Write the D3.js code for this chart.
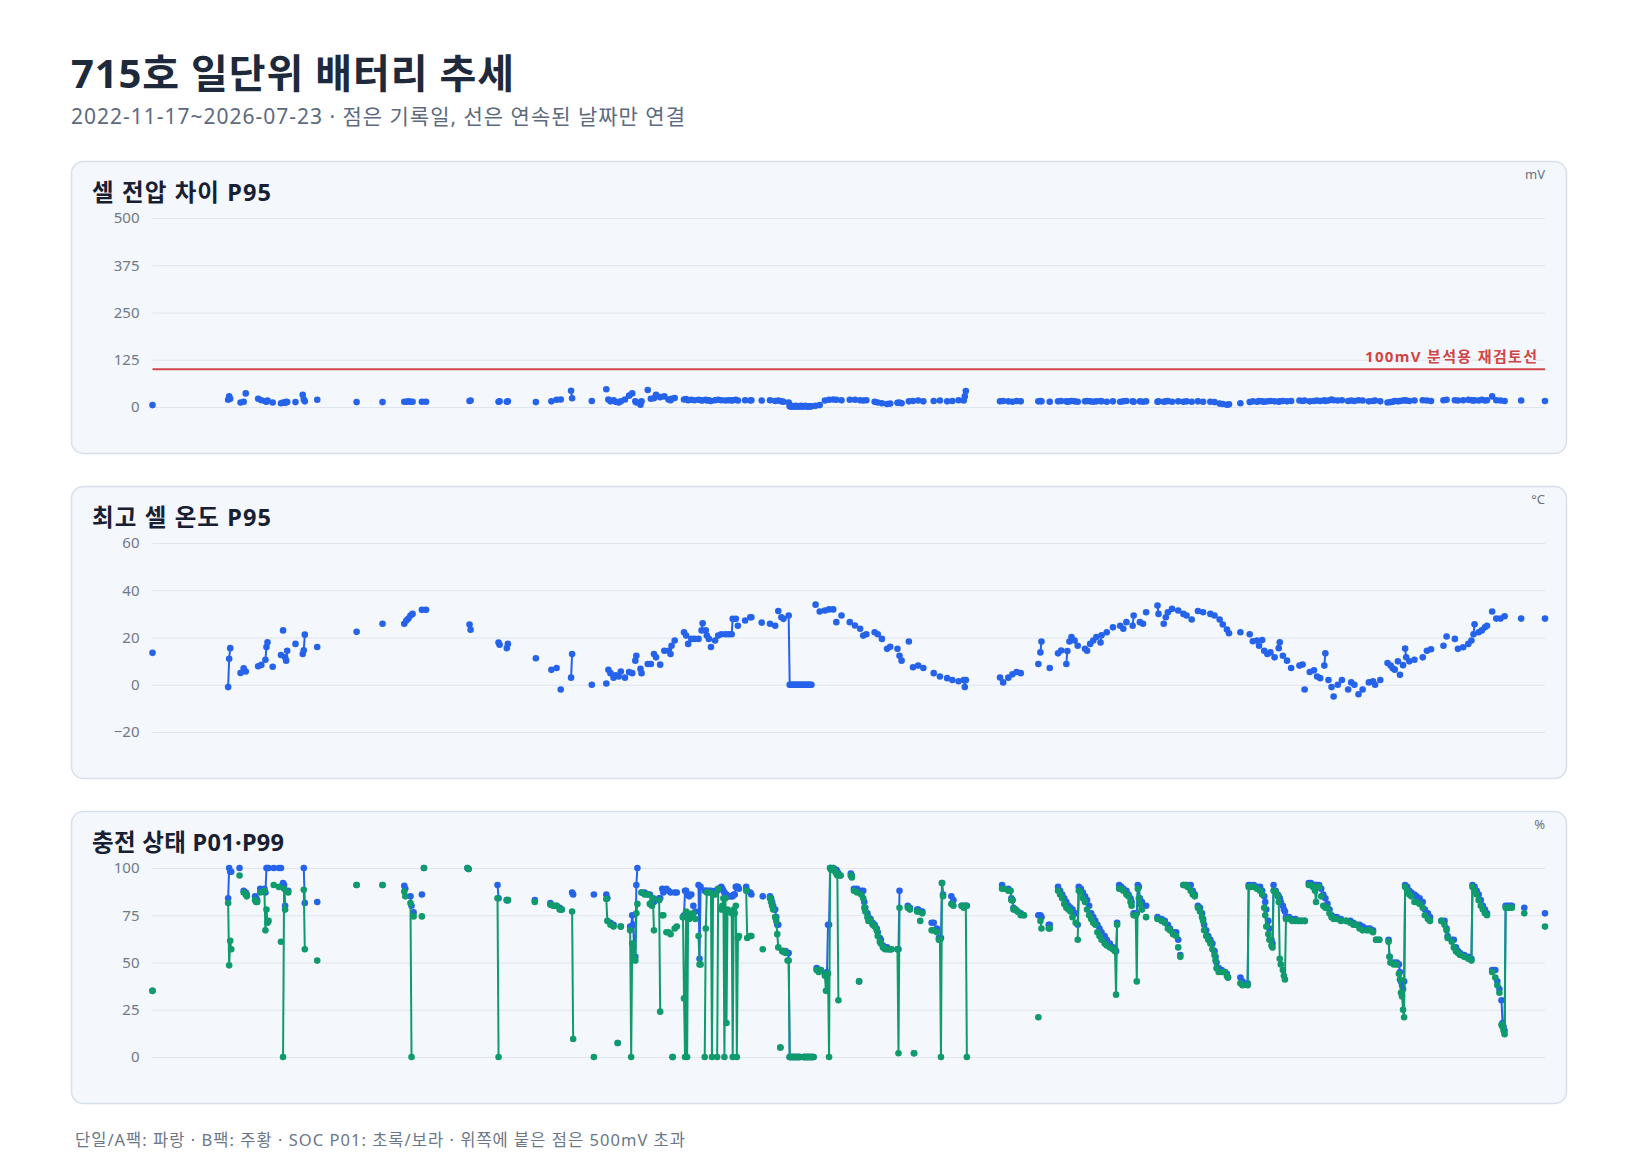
<!DOCTYPE html>
<html>
<head>
<meta charset="utf-8">
<script src="https://cdn.jsdelivr.net/npm/d3@7"></script>
<style>
body { margin: 0; background: #ffffff; }
svg text { font-family: "Noto Sans", "Noto Sans CJK KR", sans-serif; }
</style>
</head>
<body>
<script>

// day offsets are counted from 2022-11-17
var startDate = new Date(2022, 10, 17)
var endDate = new Date(2026, 6, 23)

// temperature + cell voltage spread share the same record days
var tempDays = [0,73,74,75,85,88,90,102,105,109,110,111,116,124,126,128,129,130,138,145,146,147,159,197,222,
	243,245,247,249,251,260,264,306,307,334,335,342,343,370,385,390,394,404,405,424,438,440,442,445,447,450,452,
	456,460,463,466,467,471,472,478,481,484,486,490,494,498,500,501,504,513,515,517,520,523,527,530,531,534,535,537,
	539,543,546,549,553,556,559,560,563,565,572,577,578,588,596,601,604,607,609,614,
	615,616,617,618,619,620,621,622,623,624,625,626,627,628,629,630,631,632,633,634,635,636,
	640,644,649,653,657,660,665,673,678,683,686,689,697,700,704,709,712,719,721,723,730,734,739,744,754,760,767,772,778,783,784,785,
	818,821,826,830,834,838,855,857,858,866,874,877,882,883,885,887,890,893,900,902,905,908,911,915,916,921,927,934,937,940,946,947,
	953,956,959,970,971,976,978,980,984,990,995,998,1003,1009,1014,1021,1025,1030,1033,1037,1039,1050,1059,1062,1066,1068,1071,1073,
	1076,1079,1083,1087,1088,1091,1095,1099,1107,1110,1112,1117,1121,1124,1127,1131,1132,1135,1138,1140,1144,1148,1154,1157,1160,1164,
	1168,1174,1178,1180,1185,1192,1195,1197,1199,1202,1204,1207,1209,1210,1213,1218,1226,1230,1234,1246,1249,1257,1260,1265,1270,1273,
	1275,1276,1280,1283,1286,1288,1293,1297,1301,1305,1321,1344]

var tempP95 = [13.5,-1,11,15.5,5,7,5.6,7.8,8.4,10.6,16,18,7.6,12.6,23,11.6,10.2,14.4,17.3,13,14.6,21.2,16,22.4,25.8,
	25.8,27.2,28,29.3,30,31.7,31.7,25.5,23.3,17.9,16.9,15.5,17.3,11.2,6.3,7.1,-2,3,13,0,0.5,6.3,4.9,3,4,3.5,5.6,
	3,5.4,4.9,10.2,12.3,6.7,4.9,8.8,8.8,13,11.6,8.5,14.4,14.4,13,16.5,18.7,22.2,20.8,17.3,19.4,19.4,19.4,23,26,23,20.8,19.4,
	16,18.7,20.8,21.4,21.4,21.4,21.4,27.9,27.9,25,27.2,28.6,28.6,26.3,25.8,25,31.2,28.6,27.9,29.3,
	0,0,0,0,0,0,0,0,0,0,0,0,0,0,0,0,0,0,0,0,0,0,
	33.9,31,31.4,31.9,31.9,26.5,29.3,26.5,25.1,23.7,20.8,21.4,22.2,21.4,19.4,15.2,16.1,15.2,12.3,10.2,18.3,7.4,8.1,7.1,4.9,3.5,2.8,2,1.5,2,-1,2,
	3.1,1,3,4.4,5.4,4.9,8.8,13.7,18.3,7.1,13.3,14.5,8.8,14.3,18.3,20.2,18.7,16.5,15.2,14.4,17.3,18.7,20.2,17.9,20.9,22.2,24.3,25,23.7,26.5,25,29.3,
	26.5,25.8,30.7,33.5,30,25.8,28.6,30.7,32.1,31.4,30,29.3,27.6,31.2,30.7,30,29.3,27.6,25.5,23.4,21.8,22.2,21.4,18.4,18.7,16.5,18.9,14.4,
	13,13.7,11.6,15.5,18,12.3,10.2,7.1,8.1,8.6,-2,5.4,6.1,3.5,2.8,8.1,13.3,2,-1,-5,0,2,-2,1,0,-4,
	-2,1,1.5,0,2,9.2,8.1,7,6.4,9.9,4.2,8.3,15.3,11.6,9.9,10.6,11.6,14.4,15,16.5,20.4,19.4,15.2,15.9,17.3,18.7,
	21.4,25.6,22.2,23,24.3,25,31,28,28,29,28,28]

var diffP95 = [5,19,28,22,12,14,36,22,18,15,14,17,12,10,12,11,14,13,13,32,20,15,19,13,13,
	14,14,15,14,14,14,14,16,17,14,15,14,15,13,15,19,20,43,23,16,47,20,15,18,14,12,15,
	20,30,36,15,12,6,15,45,22,23,32,26,28,20,18,22,24,20,21,18,19,18,19,17,18,19,17,18,
	16,18,19,18,17,18,17,18,19,17,18,17,18,17,18,16,17,15,14,12,
	2,1,3,2,1,2,3,1,2,2,1,3,2,1,2,3,2,1,2,2,1,2,
	3,5,17,19,20,19,18,19,19,18,17,18,14,12,10,8,9,11,12,10,15,16,17,15,16,17,15,16,18,17,28,42,
	15,16,15,14,16,15,15,16,15,14,15,16,15,14,15,16,15,14,15,16,15,14,15,16,15,14,15,14,15,16,15,14,
	15,14,15,14,15,14,15,16,14,15,14,15,14,15,14,14,13,9,8,6,7,10,13,15,14,16,15,14,
	15,16,15,14,15,16,15,16,17,16,17,15,16,17,16,18,16,17,20,18,17,18,16,17,16,18,
	17,15,16,17,15,12,13,14,16,15,16,17,18,17,16,17,18,17,16,18,19,18,17,18,19,18,
	17,18,17,19,17,18,28,18,17,16,17,16]

// state of charge record days, P99 and P01
var socDays = [0,73,74,75,76,84,88,90,91,99,100,101,104,108,109,110,111,112,117,122,124,126,127,128,131,146,147,159,197,222,
	243,244,249,250,252,260,262,304,305,333,334,342,343,369,384,387,390,393,395,405,406,426,438,439,442,445,449,452,
	461,462,463,464,465,466,467,468,472,475,478,480,482,483,484,489,490,492,493,496,498,500,502,504,506,
	512,513,514,515,516,517,518,520,522,524,527,528,529,533,534,535,537,539,540,541,543,545,546,
	549,550,551,552,553,554,555,557,559,560,561,562,563,564,565,566,573,574,577,578,589,
	596,597,598,599,601,602,603,604,606,608,609,611,613,614,615,616,617,618,619,620,621,622,623,624,625,
	628,629,630,631,632,633,634,635,636,637,638,641,643,645,649,650,651,652,653,654,655,657,659,660,661,662,664,
	674,675,677,680,682,684,686,687,688,690,691,693,695,697,699,700,702,703,705,707,709,711,713,719,720,721,
	729,730,731,735,738,739,741,743,752,754,757,759,760,761,762,763,771,773,781,783,785,786,
	820,822,826,828,829,830,831,833,835,838,841,855,857,858,865,866,874,876,878,880,882,884,886,888,891,893,894,896,898,
	900,902,904,906,908,910,912,914,916,919,921,924,927,929,930,931,933,935,937,940,942,944,945,947,948,949,950,951,952,953,955,959,
	970,974,977,980,982,985,988,990,992,995,997,999,1002,1004,1006,1009,1011,1013,1014,1015,1017,1019,1021,1023,1025,1026,1027,1029,
	1032,1035,1037,1038,1050,1052,1057,1058,1060,1063,1066,1069,1071,1073,1074,1075,1077,1078,1080,1081,1082,1084,1086,1087,1088,1089,
	1091,1092,1093,1094,1097,1100,1103,1106,1109,1112,1116,1118,1120,1122,1123,1124,1126,1128,1130,1132,1134,1136,1138,1140,1143,1147,
	1152,1156,1159,1162,1165,1168,1172,1175,1178,1181,1184,1193,1194,1195,1198,1201,1203,1204,1205,1206,1207,1208,1209,1211,1213,1215,
	1218,1220,1223,1226,1228,1231,1233,1244,1247,1249,1250,1254,1256,1258,1260,1262,1266,1270,1273,1274,1276,1278,1280,1282,1284,1286,
	1288,1293,1296,1298,1300,1302,1303,1304,1305,1306,1308,1310,1312,1324,1344]

var socP99 = [35,84,100,98,98,100,88,87,86,85,84,83,89,89,87,100,100,100,100,100,100,92,91,80,88,100,81.5,82,91,91,
	90.6,89,85,80,76.5,86,100,100,99.5,91,84,83,83,83,81.5,80,80,79,78,87,86,86,86,84,71,70,7.4,69,
	69,69,75,70,53,53,91,100,87,87,86,86,82,84,82,84,84,89,87,89,88,87,0,87,87,
	74,75,88,88,86,86,85,86,80,77,91,52,90,88,88,88,88,88,87,87,88,88,89,
	90,89,88,87,86,86,85,85,85,85,86,86,90,90,90,89,90,88,87,86,85,
	85,84,82,80,78,74,70,70,5,56,56,56,55,55,0,0,0,0,0,0,0,0,0,0,0,
	0,0,0,0,0,0,0,0,0,0,0,47,46,46,44,44,45,70,70,100,100,100,99,99,98,97,96,
	97,96,89,89,40,88,88,82,79,76,74,73,71,70,68,66,63,62,59,58,58,57,57,57,57,88,
	80,79,79,2,78,78,77,77,71,71,68,63,63,63,92,86,85,83,80,80,80,80,
	91,89,89,88,84,83,79,78,77,76,75,75,75,74,70,70,90,88,86,84,82,80,79,78,76,70,90,89,87,
	85,83,80,76,74,72,70,68,66,64,62,60,58,57,56,71,91,90,89,88,86,84,82,76,76,76,76,91,90,84,82,80,
	74,73,72,70,68,66,66,62,54,91,91,91,91,88,86,80,79,76,73,70,67,64,62,60,56,53,50,47,
	46,45,44,42,42,40,39,91,91,91,90,90,88,85,82,78,72,68,62,60,91,88,86,85,84,82,
	80,78,77,74,74,73,73,72,72,72,92,92,91,91,91,91,91,89,86,84,81,78,75,74,74,73,
	72,72,71,70,70,69,68,68,67,62,62,62,53,50,50,50,49,45,40,38,36,40,91,90,88,87,
	86,85,84,82,78,76,74,72,72,68,64,62,62,58,56,55,54,53,52,91,90,88,86,83,80,78,
	76,46,46,40,36,30,18,16,14,80,80,80,80,79,76]

var socP01 = [35,81.5,48.5,61.5,57,96,87,86,85,83,82,82,87,88,67,78,71,72,91,90,61,0,89,78,87,88.5,57,51,91,91,
	87.6,85,81.5,0,74.4,74.4,100,100,99.5,84,0,83,83,82,80.6,80,80,78,78,77,9.5,0,83.6,72,70,69,7.4,69,
	67,0,60,58,52,51,76,81,87,86,86,81,80,84,67,83,24,75,75,66,66,65,0,68,69,
	74,31,0,77,0,76,73,74,76,73,64,49,49,0,68,87,87,87,0,86,86,0,89,
	78,80,84,0,84,18,78,77,76,0,78,76,80,0,63,64,88,63,64,64,57,
	84,82,80,78,74,72,65,58,5,56,56,55,51,51,0,0,0,0,0,0,0,0,0,0,0,
	0,0,0,0,0,0,0,0,0,0,0,46,45,46,43,35,44,44,0,100,99,100,98,97,96,30,96,
	96,95,88,87,40,86,84,79,77,74,72,72,70,69,67,64,61,60,58,57,57,57,57,57,2,79,
	79,79,78,2,77,77,72,76,67,67,66,62,62,0,92,85,81,80,80,79,80,0,
	89,89,88,88,83,83,78,78,77,75,75,21,72,68,68,68,88,86,84,81,79,78,77,74,71,62,88,87,84,
	82,78,75,73,71,70,66,64,62,60,59,58,57,56,33,70,89,89,88,86,85,82,80,75,75,75,40,89,84,81,78,74,
	73,72,71,68,67,65,64,58,53,91,91,90,88,86,85,79,77,74,72,67,64,62,60,57,54,51,47,45,
	45,45,43,42,39,38,38,90,90,90,89,88,86,79,75,69,65,62,59,58,88,87,85,82,52,49,
	46,43,41,73,73,72,72,72,72,72,91,91,90,88,82,90,90,85,80,79,79,76,74,73,73,72,
	72,71,70,70,68,67,67,67,66,62,62,61,53,50,49,49,44,41,34,32,25,21,90,88,86,85,
	82,82,81,79,75,73,72,72,70,67,63,61,58,56,55,54,53,52,51,90,88,86,83,80,78,76,
	75,45,42,38,34,17,16,14,12,79,79,79,79,76,69]

var diffTicks = [0, 125, 250, 375, 500]
var tempTicks = [-20, 0, 20, 40, 60]
var socTicks = [0, 25, 50, 75, 100]

var BLUE = "#2563eb"
var GREEN = "#0f9b6c"
var PLOT_LEFT = 152.5
var PLOT_RIGHT = 1545

var svg = d3.select("body").append("svg")
	.attr("width", 1640)
	.attr("height", 1160)

var x = d3.scaleTime()
	.domain([startDate, endDate])
	.range([PLOT_LEFT, PLOT_RIGHT])

function dayX(d) {
	return x(d3.timeDay.offset(startDate, d))
}

// the hangul in the picture runs a bit wider than our font, so stretch the spacing
function fitText(sel, width) {
	sel.attr("textLength", width).attr("lengthAdjust", "spacing")
}

//TITLE
svg.append("text")
	.attr("x", 71).attr("y", 88)
	.style("font-size", "40px").style("font-weight", 700)
	.style("fill", "#1e293b")
	.text("715호 일단위 배터리 추세")
	.call(fitText, 443)

svg.append("text")
	.attr("x", 71).attr("y", 124)
	.style("font-size", "21px")
	.style("fill", "#5b6a7e")
	.text("2022-11-17~2026-07-23 · 점은 기록일, 선은 연속된 날짜만 연결")
	.call(fitText, 614)

// split a series into runs of consecutive days
function runsOf(days) {
	var runs = []
	var cur = [0]
	for (var i = 1; i < days.length; i++) {
		if (days[i] - days[i - 1] == 1) {
			cur.push(i)
		} else {
			runs.push(cur)
			cur = [i]
		}
	}
	runs.push(cur)
	return runs.filter(function(r) { return r.length > 1 })
}

function drawPanel(top, title, titleWidth, unit, domain, ticks) {
	var g = svg.append("g")

	g.append("rect")
		.attr("x", 71.5).attr("y", top + 0.5)
		.attr("width", 1495).attr("height", 292)
		.attr("rx", 12)
		.style("fill", "#f4f7fb")
		.style("stroke", "#d7e0eb")
		.style("stroke-width", 1.5)

	g.append("text")
		.attr("x", 92).attr("y", top + 40)
		.style("font-size", "23.5px").style("font-weight", 700)
		.style("fill", "#172033")
		.text(title)
		.call(fitText, titleWidth)

	g.append("text")
		.attr("x", PLOT_RIGHT).attr("y", top + 18)
		.attr("text-anchor", "end")
		.style("font-size", "13px")
		.style("fill", "#6b7280")
		.text(unit)

	var y = d3.scaleLinear()
		.domain(domain)
		.range([top + 246, top + 57])

	var axis = g.append("g")
		.attr("transform", "translate(" + PLOT_LEFT + ",0)")
		.call(d3.axisLeft(y)
			.tickValues(ticks)
			.tickSizeInner(-(PLOT_RIGHT - PLOT_LEFT))
			.tickSizeOuter(0)
			.tickPadding(13))
	axis.select(".domain").remove()
	axis.selectAll(".tick line")
		.style("stroke", "#dfe5ee")
		.style("stroke-width", 1)
	axis.selectAll(".tick text")
		.style("font-size", "15px")
		.style("font-family", "\"Noto Sans\", \"Noto Sans CJK KR\", sans-serif")
		.style("fill", "#6f7a89")

	return { g: g, y: y }
}

function drawSeries(panel, days, values, color) {
	var line = d3.line()
		.x(function(i) { return dayX(days[i]) })
		.y(function(i) { return panel.y(Math.min(values[i], panel.y.domain()[1])) })

	panel.g.append("g").selectAll("path")
		.data(runsOf(days))
		.enter()
		.append("path")
		.attr("d", line)
		.style("fill", "none")
		.style("stroke", color)
		.style("stroke-width", 2)

	panel.g.append("g").selectAll("circle")
		.data(d3.range(days.length))
		.enter()
		.append("circle")
		.attr("cx", function(i) { return dayX(days[i]) })
		.attr("cy", function(i) { return panel.y(Math.min(values[i], panel.y.domain()[1])) })
		.attr("r", 3.3)
		.style("fill", color)
}

//PANEL 1 - CELL VOLTAGE SPREAD
var p1 = drawPanel(161, "셀 전압 차이 P95", 179, "mV", [0, 500], diffTicks)

p1.g.append("line")
	.attr("x1", PLOT_LEFT).attr("x2", PLOT_RIGHT)
	.attr("y1", p1.y(100)).attr("y2", p1.y(100))
	.style("stroke", "#d04545")
	.style("stroke-width", 2)

p1.g.append("text")
	.attr("x", 1537).attr("y", p1.y(100) - 7)
	.attr("text-anchor", "end")
	.style("font-size", "15px").style("font-weight", 700)
	.style("fill", "#d04545")
	.text("100mV 분석용 재검토선")
	.call(fitText, 172)

drawSeries(p1, tempDays, diffP95, BLUE)

//PANEL 2 - MAX CELL TEMPERATURE
var p2 = drawPanel(486, "최고 셀 온도 P95", 179, "°C", [-20, 60], tempTicks)
drawSeries(p2, tempDays, tempP95, BLUE)

//PANEL 3 - STATE OF CHARGE
var p3 = drawPanel(811, "충전 상태 P01·P99", 192, "%", [0, 100], socTicks)
drawSeries(p3, socDays, socP99, BLUE)
drawSeries(p3, socDays, socP01, GREEN)

//FOOTNOTE
svg.append("text")
	.attr("x", 75).attr("y", 1146)
	.style("font-size", "16.5px")
	.style("fill", "#6b7687")
	.text("단일/A팩: 파랑 · B팩: 주황 · SOC P01: 초록/보라 · 위쪽에 붙은 점은 500mV 초과")
	.call(fitText, 610)

</script>
</body>
</html>
